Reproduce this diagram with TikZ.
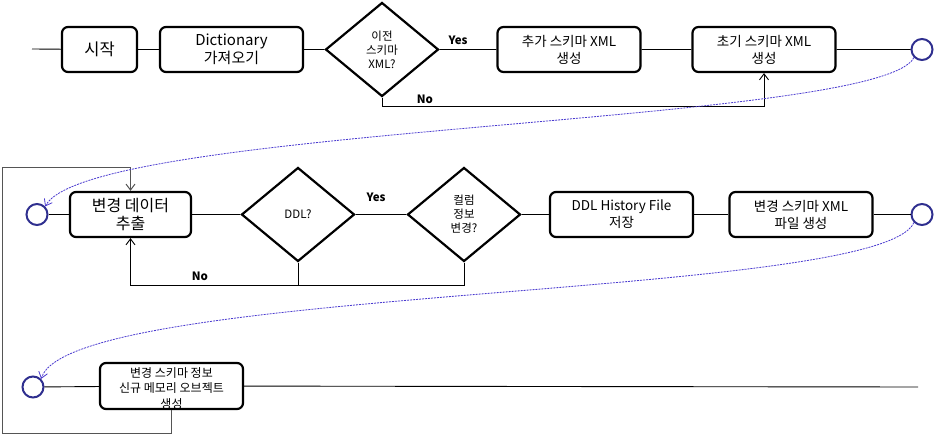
\documentclass[tikz,border=0pt]{standalone}
\usepackage{fontspec}
\setmainfont{Noto Sans CJK KR}
\usetikzlibrary{shapes.geometric,arrows.meta}
\definecolor{circ}{HTML}{2F2F8F}
\definecolor{dash}{HTML}{4A3ACF}
\definecolor{loopg}{HTML}{555555}
\tikzset{
  procbox/.style={draw,line width=2.2pt,rounded corners=6pt,minimum width=#1,minimum height=45pt,inner sep=1pt,align=center,font=\fontsize{13.5}{17}\selectfont},
  procbox/.default=143pt,
  decis/.style={draw,diamond,line width=2.2pt,minimum width=113pt,minimum height=94pt,inner sep=0pt,align=center,font=\fontsize{11.5}{14}\selectfont},
  endc/.style={draw=circ,circle,line width=2pt,minimum size=21pt,inner sep=0pt},
  conn/.style={line width=0.9pt},
  lpath/.style={draw=loopg,line width=1pt},
  arr/.style={-{Straight Barb[length=6pt,width=9pt]}},
  dcurve/.style={draw=dash,dashed,dash pattern=on 2pt off 1pt,line width=0.8pt,-{Straight Barb[length=6pt,width=9pt]}},
  yn/.style={font=\fontsize{11.5}{13}\bfseries\selectfont}
}
\begin{document}
\begin{tikzpicture}[x=1pt,y=-1pt]
\useasboundingbox (0,0) rectangle (936,435);
% Row 1
\coordinate (s0) at (32,49);
\node[procbox=75pt,font=\fontsize{16.5}{18}\selectfont] (start) at (99.5,49.5) {시작};
\node[procbox,font=\fontsize{15}{18}\selectfont] (dict) at (231.5,49.5) {Dictionary\\가져오기};
\node[decis] (d1) at (382,49.5) {이전\\스키마\\XML?};
\node[procbox] (add) at (569,49.5) {추가 스키마 XML\\생성};
\node[procbox] (init) at (764,49.5) {초기 스키마 XML\\생성};
\node[endc] (c1) at (922,49.5) {};
\draw[conn] (s0) -- (start) (start) -- (dict) (dict) -- (d1) (d1) -- (add) (add) -- (init) (init) -- (c1);
\node[yn] (yes1) at (458,40) {Yes};
\coordinate (n1) at (382,106.5);
\draw[conn,arr] (d1.south) -- (n1) -| (init.south);
\node[yn] (no1) at (425,99) {No};
% Row 2
\node[endc] (c2) at (37,214.5) {};
\node[procbox=121pt,font=\fontsize{16}{18}\selectfont] (extr) at (130.5,214.5) {변경 데이터\\추출};
\node[decis] (ddl) at (298,214.5) {DDL?};
\node[decis] (col) at (464,214.5) {컬럼\\정보\\변경?};
\node[procbox] (hist) at (621.5,214.5) {DDL History File\\저장};
\node[procbox] (chg) at (801,214.5) {변경 스키마 XML\\파일 생성};
\node[endc] (c3) at (922,214.5) {};
\draw[conn] (c2) -- (extr) (extr) -- (ddl) (ddl) -- (col) (col) -- (hist) (hist) -- (chg) (chg) -- (c3);
\node[yn] (yes2) at (376,197) {Yes};
\coordinate (n2a) at (298,285);
\coordinate (n2b) at (464,285);
\draw[conn] (ddl.south) -- (n2a);
\draw[conn,arr] (col.south) -- (n2b) -| (extr.south);
\node[yn] (no2) at (200,276) {No};
% Row 3
\node[endc] (c4) at (33,387) {};
\node[procbox,minimum height=46pt] (mem) at (171.5,386) {};
\node[font=\fontsize{12}{15.5}\selectfont,align=center,inner sep=0pt] (memt) at (171.5,388) {변경 스키마 정보\\신규 메모리 오브젝트\\생성};
\coordinate (e3) at (918,387);
\draw[conn] (c4) -- (mem) (mem) -- (e3);
% Outer loop
\coordinate (l1) at (171.5,433);
\coordinate (l2) at (2,433);
\coordinate (l3) at (2,168);
\draw[lpath,arr] (mem.south) -- (l1) -- (l2) -- (l3) -| (extr.north);
% Dashed curves
\draw[dcurve] (c1.south west) .. controls (880,125) and (90,125) .. (c2.north east);
\draw[dcurve] (c3.south west) .. controls (880,300) and (70,285) .. (c4.north east);
\end{tikzpicture}
\end{document}
